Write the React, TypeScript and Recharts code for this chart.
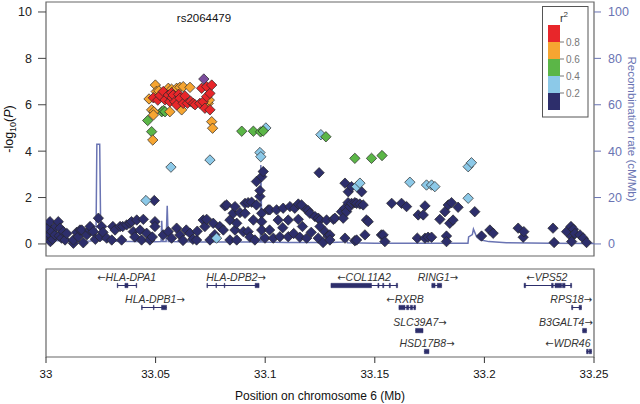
import React from 'react';
import { ComposedChart, Scatter, Line, XAxis, YAxis, ReferenceArea, ReferenceLine } from 'recharts';

// SNPs by r2 class: [position (Mb), -log10(P)]
const navySnps: [number, number][] = [
  [33.0005, 0.55], [33.0005, 0.8], [33.001, 0.68], [33.0015, 0.3], [33.0018, 0.96], [33.0018, 0.39], [33.002, 0.1],
  [33.0026, 0.53], [33.003, 0.2], [33.0041, 0.39], [33.0045, 0.75], [33.0056, 0.96], [33.006, 0.35], [33.0064, 0.68],
  [33.0071, 0.25], [33.0079, 0.53], [33.0087, 0.17], [33.0095, 0.45], [33.0125, 0.03], [33.0125, 0.17], [33.014, 0.5],
  [33.0147, 0.31], [33.0155, 0.6], [33.0163, 0.6], [33.017, 0.05], [33.0186, 0.39], [33.02, 0.6], [33.0201, 0.75],
  [33.0216, 0.53], [33.0225, 0.2], [33.0239, 1.11], [33.0246, 0.31], [33.0254, 0.75], [33.026, 0.5], [33.0277, 0.25],
  [33.03, 0.17], [33.0305, 0.75], [33.0315, 0.6], [33.0338, 0.75], [33.0345, 0.17], [33.035, 0.75], [33.0368, 0.82],
  [33.0383, 0.89], [33.039, 0.96], [33.0398, 0.53], [33.0405, 0.3], [33.0414, 1.03], [33.0429, 0.6], [33.0436, 0.17],
  [33.0444, 1.06], [33.0459, 0.46], [33.0474, 0.17], [33.0485, 0.3], [33.0494, 1.87], [33.0497, 0.96], [33.0497, 0.75],
  [33.0535, 0.39], [33.0558, 0.53], [33.0573, 0.25], [33.0596, 0.68], [33.0611, 0.39], [33.0625, 0.15], [33.064, 0.6],
  [33.0657, 0.46], [33.067, 0.2], [33.0687, 0.17], [33.069, 0.55], [33.0717, 1.03], [33.0725, 0.75], [33.0733, 1.06],
  [33.0748, 0.17], [33.0763, 0.89], [33.077, 0.4], [33.0793, 0.75], [33.0809, 0.6], [33.0816, 1.64], [33.0824, 1.68],
  [33.0839, 1.03], [33.0839, 0.17], [33.0854, 1.32], [33.0862, 1.61], [33.0862, 0.6], [33.087, 0.89], [33.087, 0.17],
  [33.0885, 1.35], [33.09, 0.53], [33.0908, 1.75], [33.0908, 1.32], [33.0922, 1.78], [33.0922, 0.53], [33.093, 0.3],
  [33.0938, 1.8], [33.0946, 1.03], [33.0953, 0.17], [33.096, 1.68], [33.096, 2.69], [33.0976, 2.05], [33.0976, 2.3],
  [33.0984, 2.9], [33.0991, 3.12], [33.0984, 1.32], [33.0984, 0.96], [33.0984, 0.6], [33.0999, 0.25], [33.1014, 1.47],
  [33.1021, 1.47], [33.102, 0.6], [33.1037, 0.25], [33.1052, 1.47], [33.1059, 1.03], [33.1067, 0.31], [33.1082, 1.54],
  [33.108, 0.7], [33.1105, 1.03], [33.1105, 0.31], [33.1113, 1.61], [33.113, 0.45], [33.1135, 1.54], [33.1151, 1.72],
  [33.1151, 1.06], [33.1158, 0.29], [33.1166, 1.68], [33.117, 0.75], [33.1189, 1.47], [33.1189, 0.25], [33.1196, 1.44],
  [33.121, 0.5], [33.1204, 1.32], [33.1227, 1.18], [33.1242, 1.11], [33.1242, 0.25], [33.1246, 3.07], [33.125, 1.03],
  [33.125, 0.75], [33.1264, 0.06], [33.1273, 0.53], [33.128, 1.03], [33.1287, 0.34], [33.1295, 0.39], [33.1295, 0.17],
  [33.1311, 1.06], [33.1318, 1.11], [33.1348, 1.39], [33.1356, 1.11], [33.1363, 1.54], [33.1364, 2.62], [33.1364, 0.25],
  [33.1371, 1.39], [33.1378, 1.78], [33.1379, 2.25], [33.1386, 1.61], [33.1394, 1.75], [33.1394, 2.47], [33.1409, 1.78],
  [33.1409, 0.14], [33.1417, 1.75], [33.1417, 0.17], [33.1432, 1.72], [33.144, 2.25], [33.1447, 1.68], [33.1455, 0.39],
  [33.1462, 1.03], [33.147, 0.96], [33.153, 0.39], [33.1538, 0.39], [33.1546, 0.1], [33.1577, 1.75], [33.1622, 1.75],
  [33.1645, 1.61], [33.1694, 0.25], [33.1698, 1.25], [33.1721, 1.25], [33.1729, 1.64], [33.1729, 0.25], [33.1743, 0.29],
  [33.1759, 0.29], [33.1797, 1.06], [33.182, 1.39], [33.1827, 0.34], [33.1827, 0.1], [33.1835, 1.68], [33.1842, 0.89],
  [33.185, 1.78], [33.1857, 1.03], [33.188, 1.58], [33.1956, 1.39], [33.1987, 0.34], [33.2025, 0.6], [33.204, 0.46],
  [33.2154, 0.68], [33.2177, 0.29], [33.218, 0.53], [33.2313, 0.68], [33.2318, 0.06], [33.2375, 0.53], [33.2395, 0.75],
  [33.2398, 0.31], [33.2398, 0.1], [33.2406, 0.63], [33.2413, 0.45], [33.2436, 0.39], [33.2451, 0.25], [33.2466, 0.06],
];
const lightBlueSnps: [number, number][] = [
  [33.0456, 1.87], [33.057, 3.31], [33.0748, 3.62], [33.0778, 0.25], [33.0976, 3.94], [33.098, 3.76], [33.1003, 5.0],
  [33.1254, 4.71], [33.1417, 2.47], [33.1432, 2.62], [33.166, 2.66], [33.1736, 2.54], [33.1759, 2.54], [33.1774, 2.47],
  [33.1926, 1.97], [33.1926, 3.33], [33.1941, 3.5],
];
const greenSnps: [number, number][] = [
  [33.0464, 5.32], [33.0482, 4.84], [33.0528, 5.7], [33.0536, 5.75], [33.0543, 5.7], [33.0893, 4.86], [33.0946, 4.86],
  [33.0979, 4.83], [33.0991, 4.87], [33.1277, 4.62], [33.1409, 3.69], [33.1485, 3.69], [33.1533, 3.81],
];
const orangeSnps: [number, number][] = [
  [33.0499, 6.85], [33.047, 6.25], [33.0503, 6.57], [33.0515, 6.6], [33.0558, 6.71], [33.0573, 6.67], [33.0596, 6.71],
  [33.0611, 6.75], [33.0626, 6.78], [33.0657, 6.75], [33.0565, 5.7], [33.0619, 5.78], [33.0482, 5.78], [33.0492, 5.7],
  [33.049, 5.56], [33.0487, 4.48], [33.0756, 5.27], [33.076, 4.99], [33.074, 6.06], [33.0745, 6.2],
];
const redSnps: [number, number][] = [
  [33.049, 6.3], [33.051, 6.2], [33.052, 6.4], [33.0535, 6.57], [33.0543, 6.21], [33.0558, 6.42], [33.0565, 6.13],
  [33.0573, 6.52], [33.0575, 6.3], [33.058, 6.42], [33.0588, 6.13], [33.0596, 5.99], [33.0605, 6.45], [33.0611, 6.28],
  [33.0626, 6.06], [33.0634, 6.38], [33.0645, 6.06], [33.066, 6.15], [33.0672, 6.06], [33.068, 6.0], [33.0702, 6.06],
  [33.071, 6.71], [33.0717, 6.13], [33.0725, 5.85], [33.0733, 6.35], [33.0733, 6.78], [33.0748, 6.49], [33.0748, 5.78],
  [33.0756, 6.85],
];
const indexSnp: [number, number][] = [[33.072, 7.11]];

// recombination rate (cM/Mb)
const recombPos = [
  33.0, 33.002, 33.004, 33.01, 33.02, 33.0228, 33.0232, 33.0245, 33.025, 33.03, 33.04, 33.05, 33.0525, 33.0528, 33.0532,
  33.0548, 33.0553, 33.0558, 33.07, 33.08, 33.0978, 33.098, 33.0985, 33.11, 33.13, 33.1355, 33.1365, 33.1375, 33.15,
  33.17, 33.1925, 33.1928, 33.1945, 33.195, 33.1965, 33.198, 33.202, 33.21, 33.23, 33.25,
];
const recombRate = [
  5.0, 3.0, 1.5, 1.2, 1.3, 1.5, 43, 43, 2.0, 1.2, 1.0, 0.9, 1.0, 10, 1.0,
  1.0, 16.5, 1.0, 0.8, 0.8, 0.8, 34, 0.8, 0.6, 0.6, 0.8, 3.5, 0.5, 0.3,
  0.3, 0.3, 3.0, 4.0, 6.4, 3.0, 1.8, 1.0, 0.5, 0.3, 0.2,
];

// genes: name, start, end, strand, row, label centre
const geneNames = ['HLA-DPA1', 'HLA-DPB1', 'HLA-DPB2', 'COL11A2', 'RXRB', 'RING1', 'SLC39A7', 'HSD17B8', 'VPS52', 'RPS18', 'B3GALT4', 'WDR46'];
const geneStart = [33.0325, 33.0436, 33.0734, 33.13, 33.161, 33.176, 33.1686, 33.1726, 33.2181, 33.2398, 33.2448, 33.2466];
const geneEnd = [33.0414, 33.055, 33.0972, 33.1604, 33.1686, 33.1805, 33.172, 33.1747, 33.2398, 33.2443, 33.2466, 33.2489];
const geneStrand = [-1, 1, 1, -1, -1, 1, 1, 1, -1, 1, 1, -1];
const geneRow = [0, 1, 0, 0, 1, 0, 2, 3, 0, 1, 2, 3];
const geneLabelPos = [33.0368, 33.0497, 33.0867, 33.1451, 33.1638, 33.1788, 33.1706, 33.1738, 33.2285, 33.2396, 33.2372, 33.2381];
// exons: [start, end, gene index]
const exons: [number, number, number][] = [
  [33.0325, 33.0328, 0], [33.036, 33.0374, 0], [33.0411, 33.0414, 0],
  [33.0436, 33.0439, 1], [33.049, 33.0493, 1], [33.0527, 33.055, 1],
  [33.0734, 33.0737, 2], [33.0775, 33.0778, 2], [33.0813, 33.0816, 2], [33.0954, 33.0972, 2],
  [33.13, 33.1485, 3], [33.1514, 33.1519, 3], [33.1536, 33.1541, 3], [33.1566, 33.1571, 3], [33.1598, 33.1604, 3],
  [33.161, 33.1638, 4], [33.1645, 33.1655, 4], [33.1662, 33.1672, 4], [33.1678, 33.1686, 4],
  [33.176, 33.1775, 5], [33.1785, 33.1805, 5],
  [33.1686, 33.172, 6],
  [33.1726, 33.1747, 7],
  [33.2181, 33.2188, 8], [33.2306, 33.2314, 8], [33.2322, 33.2352, 8], [33.2356, 33.2368, 8], [33.2393, 33.2398, 8],
  [33.2398, 33.2403, 9], [33.2432, 33.2443, 9],
  [33.2448, 33.2466, 10],
  [33.2466, 33.2474, 11], [33.2478, 33.2489, 11],
];

const xTicks = [33, 33.05, 33.1, 33.15, 33.2, 33.25];
const pTicks = [0, 2, 4, 6, 8, 10];
const recTicks = [0, 20, 40, 60, 80, 100];
const legendLabels = ['0.8', '0.6', '0.4', '0.2'];

const RED = '#e8262a';
const ORANGE = '#f6a531';
const GREEN = '#5bb647';
const LBLUE = '#8cc9e8';
const NAVY = '#2d2e6b';
const PURPLE = '#7b4c9c';
const RECOMB = '#6a74b3';
const FONT = '"Liberation Sans", Arial, sans-serif';

const X_MIN = 33;
const X_MAX = 33.25;
const P_MIN = -0.52;
const P_MAX = 10.43;
const ROW_Y = [3.25, 2.25, 1.2, 0.25];

const toPts = (arr: [number, number][]) => arr.map(([x, y]) => ({ x, y }));
const recombData = recombPos.map((x, i) => ({ x, y: recombRate[i] }));
const geneLabels = geneNames.map((name, i) => ({ x: geneLabelPos[i], y: ROW_Y[geneRow[i]], name, strand: geneStrand[i] }));

const snpGroups = [
  { key: 'navy', color: NAVY, pts: toPts(navySnps) },
  { key: 'lblue', color: LBLUE, pts: toPts(lightBlueSnps) },
  { key: 'green', color: GREEN, pts: toPts(greenSnps) },
  { key: 'orange', color: ORANGE, pts: toPts(orangeSnps) },
  { key: 'red', color: RED, pts: toPts(redSnps) },
  { key: 'index', color: PURPLE, pts: toPts(indexSnp) },
];

const diamond = (fill: string) => (props: any) => {
  const { cx, cy } = props;
  if (cx == null || cy == null) return <g />;
  const r = 5.2;
  return (
    <polygon
      points={`${cx},${cy - r} ${cx + r},${cy} ${cx},${cy + r} ${cx - r},${cy}`}
      fill={fill}
      stroke="#262626"
      strokeWidth={0.7}
    />
  );
};

const GeneLabel = (props: any) => {
  const { cx, cy } = props;
  const p = props.payload || props;
  if (cx == null || cy == null) return <g />;
  return (
    <text x={cx} y={cy - 8.5} textAnchor="middle" dominantBaseline="central" fontSize={10.5} fill="#333" fontFamily={FONT}>
      {p.strand < 0 && <tspan fontFamily="DejaVu Sans" fontSize={10}>{'\u2190'}</tspan>}
      <tspan fontStyle="italic">{p.name}</tspan>
      {p.strand > 0 && <tspan fontFamily="DejaVu Sans" fontSize={10}>{'\u2192'}</tspan>}
    </text>
  );
};

const LeftTitle = (props: any) => {
  const vb = props.viewBox || { y: 2, height: 254 };
  const y = vb.y + vb.height / 2;
  return (
    <text transform={`translate(9,${y}) rotate(-90)`} textAnchor="middle" dominantBaseline="central" fontSize={12.5} fill="#111" fontFamily={FONT}>
      -log<tspan fontSize={9} dy={4}>10</tspan>
      <tspan dy={-4}>(</tspan>
      <tspan fontStyle="italic">P</tspan>)
    </text>
  );
};

const RightTitle = (props: any) => {
  const vb = props.viewBox || { y: 2, height: 254 };
  const y = vb.y + vb.height / 2;
  return (
    <text transform={`translate(632,${y}) rotate(90)`} textAnchor="middle" dominantBaseline="central" fontSize={11.5} fill={RECOMB} fontFamily={FONT}>
      Recombination rate (cM/Mb)
    </text>
  );
};

const XTitle = (props: any) => {
  const vb = props.viewBox || { x: 46, y: 357, width: 548 };
  return (
    <text x={vb.x + vb.width / 2} y={vb.y + 39} textAnchor="middle" dominantBaseline="central" fontSize={12} fill="#111" fontFamily={FONT}>
      Position on chromosome 6 (Mb)
    </text>
  );
};

const legendColors = [RED, ORANGE, GREEN, LBLUE, NAVY];

export default function App() {
  return (
    <div style={{ position: 'absolute', left: 0, top: 0, width: 640, height: 404, background: '#fff', fontFamily: FONT }}>
      <div style={{ position: 'absolute', left: 0, top: 0 }}>
        <ComposedChart width={640} height={262} margin={{ top: 2, right: 0, bottom: 6, left: 0 }}>
          <XAxis dataKey="x" type="number" domain={[X_MIN, X_MAX]} allowDataOverflow hide />
          <YAxis
            yAxisId="left"
            dataKey="y"
            type="number"
            domain={[P_MIN, P_MAX]}
            ticks={pTicks}
            allowDataOverflow
            width={46}
            axisLine={false}
            tickLine={{ stroke: '#444' }}
            tickSize={8}
            tickMargin={6}
            tick={{ fontSize: 12.5, fill: '#222', fontFamily: FONT }}
            label={<LeftTitle />}
          />
          <YAxis
            yAxisId="right"
            orientation="right"
            dataKey="y"
            type="number"
            domain={[-5.2, 104.3]}
            ticks={recTicks}
            allowDataOverflow
            width={46}
            axisLine={false}
            tickLine={{ stroke: RECOMB }}
            tickSize={7}
            tickMargin={7}
            tick={{ fontSize: 12.5, fill: RECOMB, fontFamily: FONT, textAnchor: 'start' }}
            label={<RightTitle />}
          />
          <Line
            yAxisId="right"
            data={recombData}
            dataKey="y"
            type="linear"
            stroke={RECOMB}
            strokeWidth={1.5}
            dot={false}
            isAnimationActive={false}
          />
          {snpGroups.map((g) => (
            <Scatter key={g.key} yAxisId="left" data={g.pts} shape={diamond(g.color)} isAnimationActive={false} />
          ))}
          <ReferenceArea yAxisId="left" x1={X_MIN} x2={X_MAX} y1={P_MIN} y2={P_MAX} fill="none" fillOpacity={0} stroke="#666" strokeWidth={1.2} />
        </ComposedChart>
      </div>

      <svg width={640} height={262} style={{ position: 'absolute', left: 0, top: 0, pointerEvents: 'none' }}>
        <text x={204} y={18} textAnchor="middle" dominantBaseline="central" fontSize={11.5} fill="#111" fontFamily={FONT}>
          rs2064479
        </text>
        <rect x={542.5} y={6.5} width={45.5} height={110.5} fill="#fff" stroke="#555" strokeWidth={1} />
        <text x={564} y={18} textAnchor="middle" dominantBaseline="central" fontSize={11} fill="#333" fontFamily={FONT}>
          r<tspan fontSize={8} dy={-4}>2</tspan>
        </text>
        {legendColors.map((c, i) => (
          <rect key={c} x={548} y={25 + i * 17} width={12} height={17} fill={c} />
        ))}
        {legendLabels.map((l, i) => (
          <g key={l}>
            <line x1={560} x2={564} y1={42 + i * 17} y2={42 + i * 17} stroke="#777" />
            <text x={566} y={42 + i * 17} dominantBaseline="central" fontSize={10} fill="#777" fontFamily={FONT}>
              {l}
            </text>
          </g>
        ))}
      </svg>

      <div style={{ position: 'absolute', left: 0, top: 262 }}>
        <ComposedChart width={640} height={142} margin={{ top: 7, right: 46, bottom: 0, left: 46 }}>
          <XAxis
            dataKey="x"
            type="number"
            domain={[X_MIN, X_MAX]}
            ticks={xTicks}
            allowDataOverflow
            height={47}
            axisLine={false}
            tickLine={{ stroke: '#333' }}
            tickSize={6}
            tickMargin={7}
            tick={{ fontSize: 11.5, fill: '#111', fontFamily: FONT }}
            label={<XTitle />}
          />
          <YAxis dataKey="y" type="number" domain={[0, 4]} allowDataOverflow hide />
          {geneNames.map((n, i) => (
            <ReferenceLine
              key={n}
              segment={[
                { x: geneStart[i], y: ROW_Y[geneRow[i]] },
                { x: geneEnd[i], y: ROW_Y[geneRow[i]] },
              ]}
              stroke={NAVY}
              strokeWidth={1}
            />
          ))}
          {exons.map(([s, e, g], i) => (
            <ReferenceArea
              key={i}
              x1={s}
              x2={e}
              y1={ROW_Y[geneRow[g]] - 0.1}
              y2={ROW_Y[geneRow[g]] + 0.1}
              fill={NAVY}
              fillOpacity={1}
              stroke={NAVY}
              strokeWidth={0.5}
            />
          ))}
          <Scatter data={geneLabels} shape={GeneLabel} isAnimationActive={false} />
          <ReferenceArea x1={X_MIN} x2={X_MAX} y1={0} y2={4} fill="none" fillOpacity={0} stroke="#666" strokeWidth={1.2} />
        </ComposedChart>
      </div>
    </div>
  );
}
